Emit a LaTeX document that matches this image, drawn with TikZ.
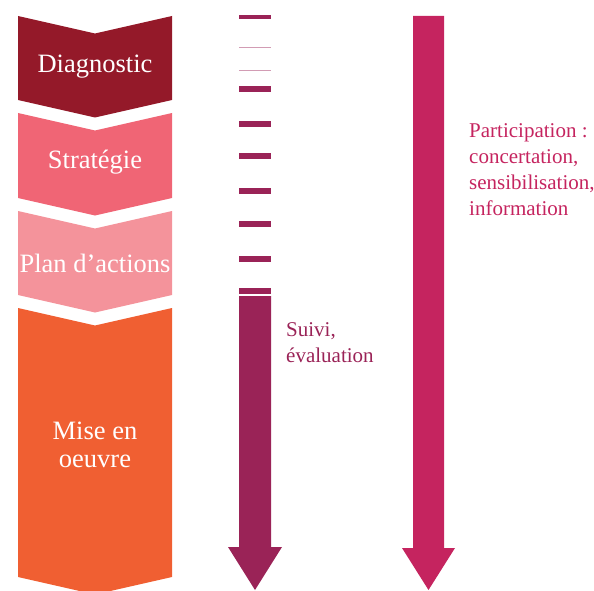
\documentclass[tikz,border=0pt]{standalone}
\usepackage{fontspec}
\setmainfont{Liberation Serif}

\definecolor{diagred}{RGB}{148,25,41}
\definecolor{stratpink}{RGB}{240,101,117}
\definecolor{planpink}{RGB}{244,147,155}
\definecolor{miseorange}{RGB}{240,95,50}
\definecolor{suiviplum}{RGB}{154,35,87}
\definecolor{partpink}{RGB}{197,36,95}

\tikzset{
	phase/.style={text=white, inner sep=0pt, align=center, font=\fontsize{26.5}{28}\selectfont},
	note/.style={inner sep=0pt, align=left, font=\fontsize{21}{25.7}\selectfont}
}

\newcommand{\chevron}[3]{\fill[#3] (18,#1) -- (95,#1+17.5) -- (172,#1) -- (172,#2) -- (95,#2+17.5) -- (18,#2) -- cycle;}

\begin{document}
\begin{tikzpicture}[x=1pt, y=-1pt]
	\useasboundingbox (0,0) rectangle (594,591);
	\chevron{16}{100}{diagred}
	\chevron{113}{198}{stratpink}
	\chevron{211}{295}{planpink}
	\chevron{308}{577}{miseorange}
	\node[phase, anchor=base] (diag) at (95,73) {Diagnostic};
	\node[phase, anchor=base] (strat) at (95,168) {Stratégie};
	\node[phase, anchor=base] (plan) at (95,272) {Plan d’actions};
	\node[phase, anchor=base] (mise) at (95,467) {Mise en\\oeuvre};
	\foreach \y/\h/\k in {15/4/100, 47/1/45, 70/1/45, 86/6/100, 121/6/100, 153/6/100, 188/6/100, 221/6/100, 256/6/100, 288/6/100}
		\fill[suiviplum!\k] (239,\y) rectangle (271,\y+\h);
	\fill[suiviplum] (239,296) -- (271,296) -- (271,547) -- (282,547) -- (255,590) -- (228,547) -- (239,547) -- cycle;
	\fill[partpink] (413,16) -- (444,16) -- (444,548) -- (455,548) -- (428.5,590) -- (402,548) -- (413,548) -- cycle;
	\node[note, text=suiviplum, anchor=base west] (suivi) at (286,362) {Suivi,\\évaluation};
	\node[note, text=partpink, anchor=base west] (part) at (469,215) {Participation :\\concertation,\\sensibilisation,\\information};
\end{tikzpicture}
\end{document}
